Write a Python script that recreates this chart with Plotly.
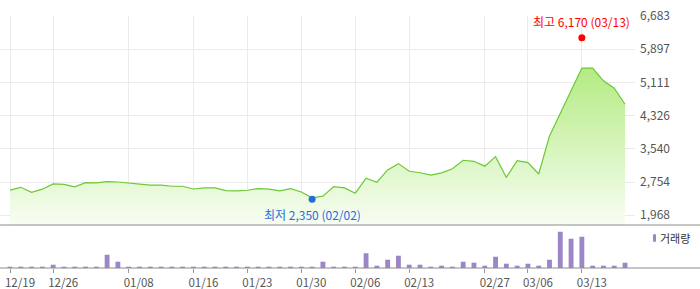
import plotly.graph_objects as go

# ---- data ----
idx = list(range(58))
close = [2565, 2630, 2510, 2585, 2710, 2700, 2640, 2740, 2735, 2765,
         2755, 2725, 2700, 2680, 2680, 2655, 2655, 2590, 2615, 2615,
         2550, 2545, 2560, 2600, 2585, 2545, 2600, 2520, 2380, 2420,
         2645, 2615, 2490, 2845, 2750, 3040, 3190, 3010, 2975, 2920,
         2970, 3070, 3270, 3245, 3130, 3355, 2865, 3260, 3215, 2945,
         3845, 4380, 4905, 5450, 5450, 5150, 4975, 4595]
volume = [100000, 100000, 100000, 100000, 330000, 100000, 100000, 100000, 100000, 1330000,
          630000, 100000, 100000, 100000, 100000, 100000, 100000, 100000, 100000, 100000,
          100000, 100000, 100000, 100000, 100000, 100000, 100000, 100000, 100000, 630000,
          100000, 100000, 130000, 1470000, 230000, 830000, 1230000, 330000, 330000, 130000,
          230000, 130000, 630000, 530000, 230000, 1130000, 430000, 230000, 430000, 230000,
          830000, 3630000, 2930000, 3130000, 230000, 230000, 230000, 530000]
tick_idx = [0, 4, 11, 17, 22, 27, 32, 37, 44, 48, 53]
tick_labels = ["12/19", "12/26", "01/08", "01/16", "01/23", "01/30",
               "02/06", "02/13", "02/27", "03/06", "03/13"]
price_ticks = [1968 + k * (6683 - 1968) / 6 for k in range(7)]
price_tick_labels = ["1,968", "2,754", "3,540", "4,326", "5,111", "5,897", "6,683"]
high_idx, high_val, high_label = 53, 6170, "최고 6,170 (03/13)"
low_idx, low_val, low_label = 28, 2350, "최저 2,350 (02/02)"

FONT = "Noto Sans CJK KR, Noto Sans, sans-serif"
FS = 12
W, H = 700, 289
ML, MR, MT, MB = 0, 65, 16, 21
PW = W - ML - MR
PH = H - MT - MB
sep_y = (H - MB - 225) / PH

fig = go.Figure()

fig.add_trace(go.Scatter(
    x=idx, y=close, mode="lines", xaxis="x2", yaxis="y",
    line=dict(color="#6bc935", width=1.2),
    fill="tozeroy",
    fillgradient=dict(type="vertical",
                      colorscale=[[0, "#f8fdf3"], [1, "#b4eb83"]],
                      start=1738, stop=5450),
    hoverinfo="skip"))

fig.add_trace(go.Scatter(x=[high_idx], y=[high_val], mode="markers", xaxis="x2", yaxis="y",
                         marker=dict(color="#ff0000", size=7), hoverinfo="skip"))
fig.add_trace(go.Scatter(x=[low_idx], y=[low_val], mode="markers", xaxis="x2", yaxis="y",
                         marker=dict(color="#1f6fe0", size=7), hoverinfo="skip"))

fig.add_trace(go.Bar(x=idx, y=volume, xaxis="x", yaxis="y2", width=0.45,
                     marker=dict(color="#9c86c8", line=dict(width=0)), hoverinfo="skip"))

xr = [-10 / 10.79, (PW - 10) / 10.79]

fig.update_layout(
    width=W, height=H,
    margin=dict(l=ML, r=MR, t=MT, b=MB, autoexpand=False),
    paper_bgcolor="white", plot_bgcolor="white",
    showlegend=False,
    font=dict(family=FONT, size=FS, color="#555555"),
    xaxis=dict(domain=[0, 1], anchor="y2", range=xr, tickmode="array",
               tickvals=tick_idx, ticktext=tick_labels, ticks="outside",
               ticklen=4, tickcolor="#999999", showgrid=False, zeroline=False,
               showline=False, ticklabelshift=10, ticklabelstandoff=0,
               automargin=False,
               tickfont=dict(size=11.5, color="#555555", family=FONT)),
    xaxis2=dict(domain=[0, 1], anchor="y", matches="x", range=xr, tickmode="array",
                tickvals=tick_idx, showticklabels=False, showgrid=True,
                gridcolor="#ebebeb", gridwidth=1, zeroline=False, showline=False,
                automargin=False),
    yaxis=dict(domain=[sep_y, 1], side="right", range=[1738, 6683],
               tickmode="array", tickvals=price_ticks, ticktext=price_tick_labels,
               showgrid=True, gridcolor="#ebebeb", zeroline=False, showline=False,
               ticks="", ticklabelstandoff=4, automargin=False,
               tickfont=dict(size=FS, color="#555555", family=FONT)),
    yaxis2=dict(domain=[0, 0.16], range=[0, 4040000], showgrid=False,
                showticklabels=False, zeroline=False, showline=False,
                automargin=False),
    shapes=[
        dict(type="line", xref="paper", yref="paper", x0=0, x1=W / PW,
             y0=sep_y, y1=sep_y, line=dict(color="#8c8c8c", width=1)),
        dict(type="line", xref="paper", yref="paper", x0=0, x1=W / PW,
             y0=0, y1=0, line=dict(color="#8c8c8c", width=1)),
        dict(type="rect", xref="paper", yref="paper",
             x0=653 / PW, x1=656 / PW,
             y0=(H - MB - 241.7) / PH, y1=(H - MB - 234.3) / PH,
             fillcolor="#9c86c8", line=dict(width=0)),
    ],
    annotations=[
        dict(x=high_idx, y=high_val, xref="x2", yref="y", text=high_label,
             showarrow=False, yshift=16, xanchor="center", yanchor="middle",
             font=dict(color="#ff0000", size=FS, family=FONT)),
        dict(x=low_idx, y=low_val, xref="x2", yref="y", text=low_label,
             showarrow=False, yshift=-15, xanchor="center", yanchor="middle",
             font=dict(color="#1f6fe0", size=FS, family=FONT)),
        dict(x=658 / PW, y=(H - MB - 238) / PH, xref="paper", yref="paper",
             text="거래량", showarrow=False, xanchor="left", yanchor="middle",
             font=dict(color="#333333", size=11, family=FONT)),
    ],
)

fig.write_html("out.html", config={"displayModeBar": False})
